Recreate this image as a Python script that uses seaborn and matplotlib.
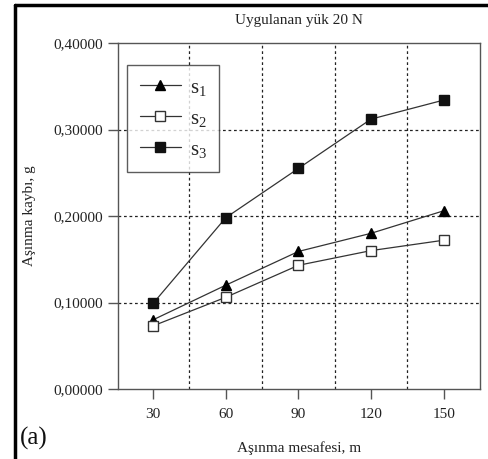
import matplotlib
matplotlib.use("Agg")
import matplotlib.pyplot as plt
import seaborn as sns
import pandas as pd
from matplotlib.lines import Line2D
from matplotlib.ticker import FixedLocator

distance = [30, 60, 90, 120, 150]
s1 = [0.080, 0.120, 0.159, 0.180, 0.206]
s2 = [0.073, 0.106, 0.143, 0.160, 0.172]
s3 = [0.099, 0.198, 0.255, 0.312, 0.334]
series_names = ["s1", "s2", "s3"]
legend_labels = [r"$\mathregular{s_1}$", r"$\mathregular{s_2}$", r"$\mathregular{s_3}$"]
y_ticks = [0.0, 0.1, 0.2, 0.3, 0.4]
y_tick_labels = ["0,00000", "0,10000", "0,20000", "0,30000", "0,40000"]
x_grid = [45, 75, 105, 135]

sns.set_theme(style="white")
plt.rcParams["font.family"] = ["Liberation Serif", "DejaVu Serif"]
plt.rcParams["mathtext.fontset"] = "custom"
plt.rcParams["mathtext.rm"] = "Liberation Serif"

df = pd.DataFrame({
    "dist": distance * 3,
    "loss": s1 + s2 + s3,
    "series": [n for n in series_names for _ in distance],
})

fig = plt.figure(figsize=(4.88, 4.59), dpi=100)
ax = fig.add_axes([118/488, 1-389/459, (480-118)/488, (389-43)/459])

styles = {
    "s1": dict(marker="^", markerfacecolor="black", markeredgecolor="black"),
    "s2": dict(marker="s", markerfacecolor="white", markeredgecolor="#333333"),
    "s3": dict(marker="s", markerfacecolor="#111111", markeredgecolor="#111111"),
}
for name, lab in zip(series_names, legend_labels):
    sub = df[df["series"] == name]
    sns.lineplot(data=sub, x="dist", y="loss", ax=ax, color="#333333", linewidth=0.9,
                 markersize=7.5, markeredgewidth=1.0, label=lab, **styles[name])

ax.set_xlim(15.5, 165)
ax.set_ylim(0, 0.4)
ax.set_xticks(distance)
ax.set_xticklabels([str(d) for d in distance])
ax.set_yticks(y_ticks)
ax.set_yticklabels(y_tick_labels)
ax.xaxis.set_minor_locator(FixedLocator(x_grid))
ax.grid(False)
for yv in y_ticks[1:-1]:
    ax.axhline(yv, color="#222222", linestyle=(0, (2.2, 2.2)), linewidth=0.9, zorder=0)
for xv in x_grid:
    ax.axvline(xv, color="#222222", linestyle=(0, (2.2, 2.2)), linewidth=0.9, zorder=0)

for sp in ax.spines.values():
    sp.set_color("#555555")
    sp.set_linewidth(1.0)
ax.tick_params(axis="both", which="major", direction="out", length=7, width=1.0,
               color="#555555", labelsize=11, labelcolor="#222222")
ax.tick_params(axis="x", which="major", pad=7)
ax.tick_params(axis="both", which="minor", length=0)
ax.tick_params(left=True, bottom=True)

ax.set_xlabel("Aşınma mesafesi, m", fontsize=11, color="#222222")
ax.set_ylabel("Aşınma kaybı, g", fontsize=11, color="#222222")
ax.xaxis.set_label_coords(0.5, -(448-389)/346, transform=ax.transAxes)
ax.xaxis.label.set_va("center")
ax.yaxis.set_label_coords((30-118)/362, 0.5, transform=ax.transAxes)
ax.yaxis.label.set_va("center")
ax.set_title("Uygulanan yük 20 N", fontsize=11, color="#222222", pad=14)

leg = ax.legend(loc="upper left", bbox_to_anchor=(0.025, 0.935), fontsize=15,
                frameon=True, fancybox=False, borderpad=0.6, labelspacing=0.55,
                handlelength=2.0, handletextpad=0.4, borderaxespad=0)
leg.get_frame().set_edgecolor("#333333")
leg.get_frame().set_linewidth(1.0)

fig.text(20/488, 1-438/459, "(a)", fontsize=18, color="#111111", va="center", ha="left")

fig.add_artist(Line2D([15/488, 1], [1-5/459, 1-5/459], transform=fig.transFigure,
                      color="black", linewidth=2.5))
fig.add_artist(Line2D([15/488, 15/488], [0, 1-5/459], transform=fig.transFigure,
                      color="black", linewidth=2.5))

fig.savefig("out.png", dpi=100)
